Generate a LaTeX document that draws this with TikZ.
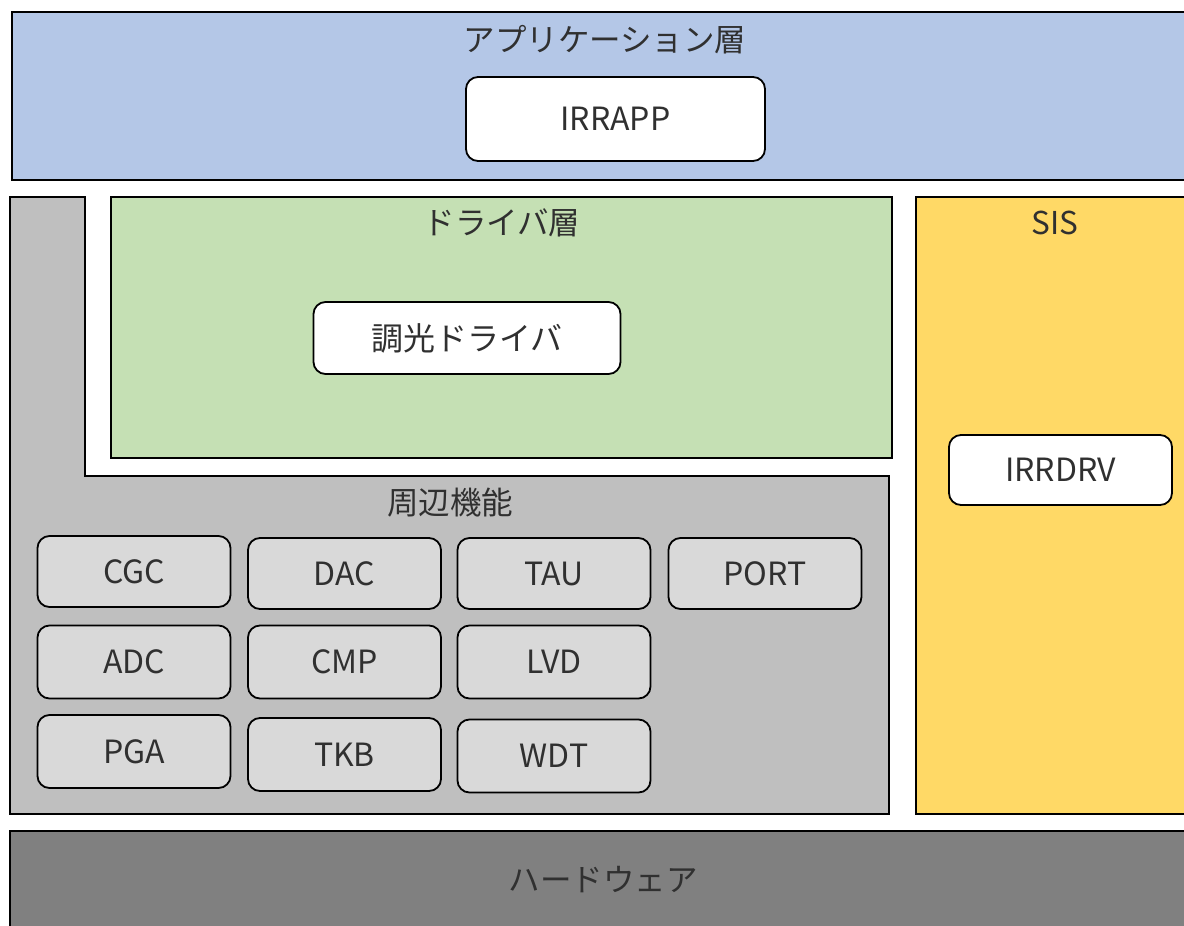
\documentclass[tikz,border=0pt]{standalone}
\usepackage{fontspec}
\setmainfont{Noto Sans CJK JP}
\definecolor{appblue}{HTML}{B4C7E7}
\definecolor{drvgreen}{HTML}{C5E0B4}
\definecolor{sisyellow}{HTML}{FFD966}
\definecolor{periph}{HTML}{BFBFBF}
\definecolor{modgray}{HTML}{D9D9D9}
\definecolor{hwgray}{HTML}{808080}
\definecolor{txt}{HTML}{303030}
\begin{document}
\begin{tikzpicture}[x=1pt,y=-1pt,
  layer/.style={draw=black,line width=2pt},
  lbl/.style={text=txt,font=\fontsize{31.5}{36}\selectfont,inner sep=0pt},
  whitebox/.style={draw=black,line width=1.8pt,fill=white,rounded corners=12pt,
     text=txt,font=\fontsize{32}{36}\selectfont},
  modbox/.style={draw=black,line width=1.8pt,fill=modgray,rounded corners=12pt,
     text=txt,font=\fontsize{32}{36}\selectfont,minimum width=193pt,minimum height=71pt,inner sep=0pt}]
\useasboundingbox (0,0) rectangle (1184,926);
\fill[white] (0,0) rectangle (1184,926);
\clip (0,0) rectangle (1184,926);
% application layer
\draw[layer,fill=appblue] (12,12) rectangle (1200,180);
\node[lbl] (applbl) at (605,40) {アプリケーション層};
\node[whitebox,minimum width=299pt,minimum height=84pt] (irrapp) at (615.5,119) {IRRAPP};
% peripheral L shape
\draw[layer,fill=periph] (10,197) -- (85,197) -- (85,476) -- (889,476) -- (889,814) -- (10,814) -- cycle;
\node[lbl] (perilbl) at (450,503) {周辺機能};
% driver layer
\draw[layer,fill=drvgreen] (111,197) rectangle (892,458);
\node[lbl] (drvlbl) at (502,223) {ドライバ層};
\node[whitebox,minimum width=307pt,minimum height=72pt] (dimdrv) at (467,338) {調光ドライバ};
% SIS
\draw[layer,fill=sisyellow] (916,197) rectangle (1200,814);
\node[lbl] (sislbl) at (1055,223) {SIS};
\node[whitebox,minimum width=223pt,minimum height=70pt] (irrdrv) at (1060.5,470) {IRRDRV};
% modules
\node[modbox] (cgc) at (134,571.5) {CGC};
\node[modbox] (dac) at (344.5,573.5) {DAC};
\node[modbox] (tau) at (554,573.5) {TAU};
\node[modbox] (port) at (765,573.5) {PORT};
\node[modbox,minimum height=73pt] (adc) at (134,662) {ADC};
\node[modbox,minimum height=73pt] (cmp) at (344.5,662) {CMP};
\node[modbox,minimum height=73pt] (lvd) at (554,662) {LVD};
\node[modbox,minimum height=73pt] (pga) at (134,751.5) {PGA};
\node[modbox,minimum height=73pt] (tkb) at (344.5,754.5) {TKB};
\node[modbox,minimum height=73pt] (wdt) at (554,756) {WDT};
% hardware
\draw[layer,fill=hwgray] (10,831) rectangle (1200,940);
\node[lbl] (hwlbl) at (603,880) {ハードウェア};
\end{tikzpicture}
\end{document}
